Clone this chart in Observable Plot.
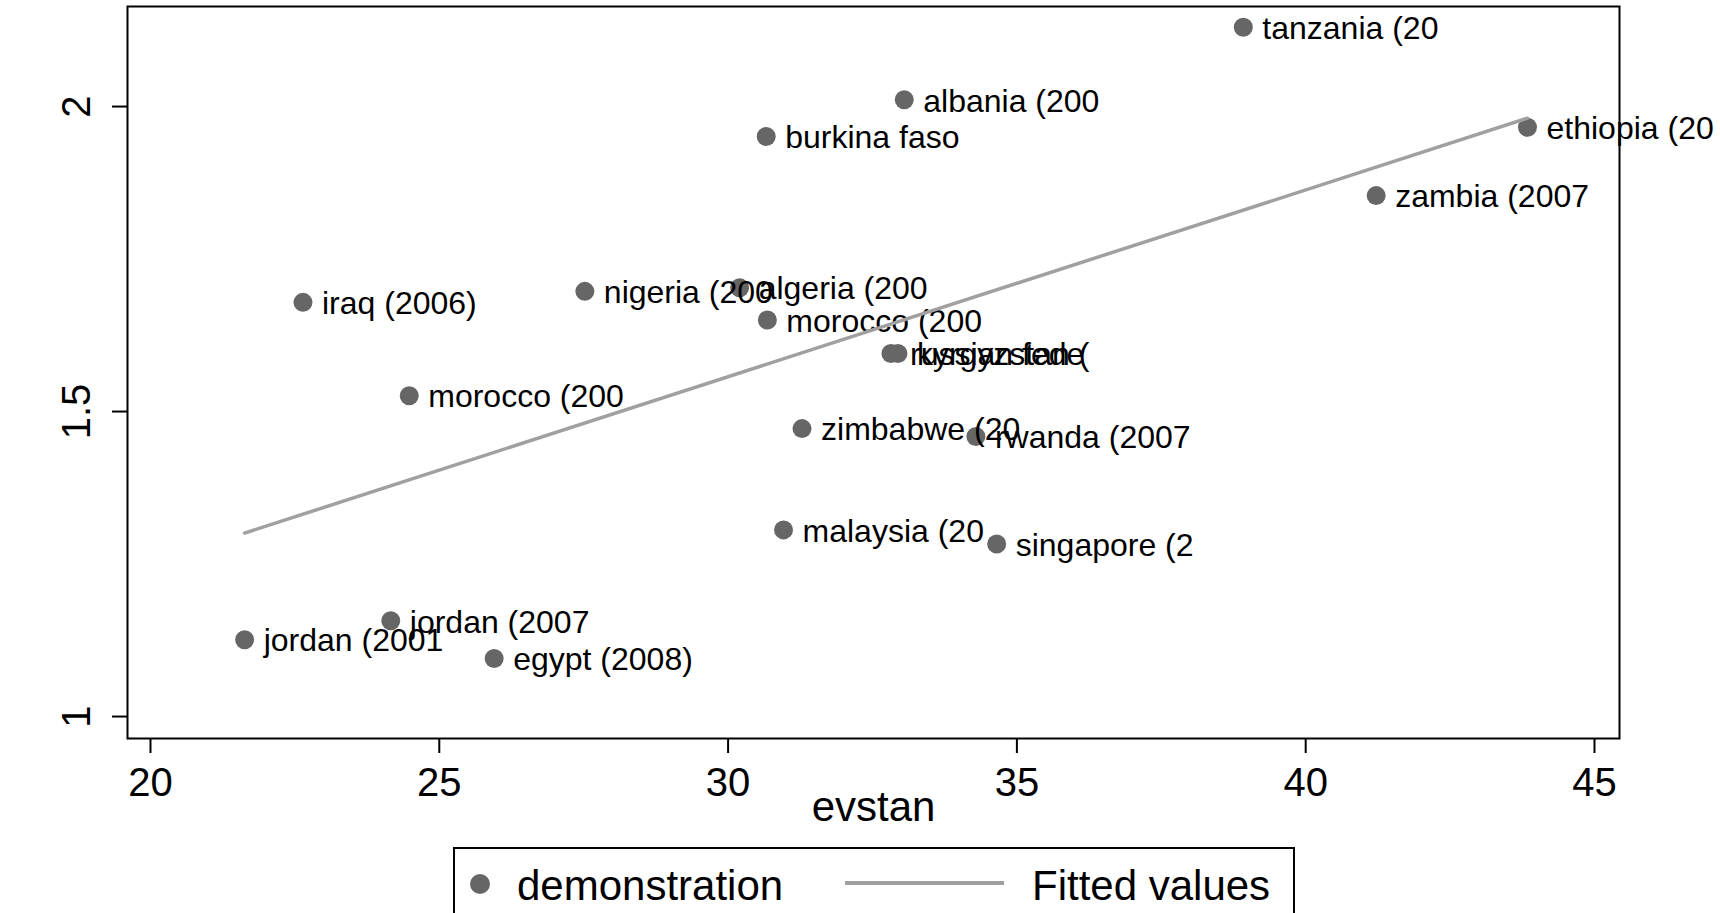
<!DOCTYPE html>
<html>
<head>
<meta charset="utf-8">
<script src="https://cdn.jsdelivr.net/npm/d3@7"></script>
<script src="https://cdn.jsdelivr.net/npm/@observablehq/plot@0.6"></script>
<style>
  html, body { margin: 0; padding: 0; background: #fff; width: 1720px; height: 913px; overflow: hidden; }
  #chart svg, #legend { display: block; }
  #legend text { font-family: "Liberation Sans", Arial, Helvetica, sans-serif; }
</style>
</head>
<body>
<div id="chart"></div>
<svg id="legend" width="1720" height="73" xmlns="http://www.w3.org/2000/svg"></svg>
<script>
// ---- data ----
const names = ["tanzania (20", "albania (200", "burkina faso", "ethiopia (20", "zambia (2007",
  "iraq (2006)", "nigeria (200", "algeria (200", "morocco (200", "russian fede", "kyrgyzstan (",
  "morocco (200", "zimbabwe (20", "rwanda (2007", "malaysia (20", "singapore (2",
  "jordan (2007", "jordan (2001", "egypt (2008)"];
const evstan = [38.92, 33.05, 30.66, 43.84, 41.22,
  22.64, 27.52, 30.20, 30.68, 32.82, 32.94,
  24.48, 31.28, 34.29, 30.96, 34.65,
  24.16, 21.63, 25.95];
const demonstration = [2.130, 2.011, 1.951, 1.966, 1.854,
  1.679, 1.697, 1.703, 1.650, 1.595, 1.595,
  1.526, 1.472, 1.459, 1.306, 1.283,
  1.157, 1.126, 1.095];
const xTicks = [20, 25, 30, 35, 40, 45];
const yTicks = [1, 1.5, 2];
const xTitle = "evstan";
const legendLabels = ["demonstration", "Fitted values"];

const rows = names.map((n, i) => ({name: n, evstan: evstan[i], demonstration: demonstration[i]}));

const font = "'Liberation Sans', Arial, Helvetica, sans-serif";
const dotColor = "#666666";
const lineColor = "#a0a0a0";

const chart = Plot.plot({
  width: 1720,
  height: 840,
  marginLeft: 127,
  marginRight: 101,
  marginTop: 6,
  marginBottom: 102,
  x: {domain: [19.602, 45.433]},
  y: {domain: [0.964, 2.164]},
  style: {fontFamily: font, background: "white", color: "black"},
  marks: [
    Plot.frame({stroke: "black", strokeWidth: 2}),
    Plot.axisX({ticks: xTicks, tickSize: 15, tickPadding: 14, fontSize: 40, strokeWidth: 2, label: null}),
    Plot.axisY({ticks: yTicks, tickSize: 15, strokeWidth: 2, tickFormat: () => "", label: null}),
    Plot.text(yTicks, {y: d => d, text: d => String(d), frameAnchor: "left", dx: -50, rotate: -90,
      fontSize: 40, textAnchor: "middle", lineAnchor: "middle"}),
    Plot.text([xTitle], {text: d => d, frameAnchor: "bottom", lineAnchor: "bottom", dy: 82, fontSize: 42}),
    Plot.dot(rows, {x: "evstan", y: "demonstration", r: 9.5, fill: dotColor, stroke: null}),
    Plot.text(rows, {x: "evstan", y: "demonstration", text: "name", dx: 19, dy: 1.5,
      textAnchor: "start", lineAnchor: "middle", fontSize: 32, fill: "black"}),
    Plot.linearRegressionY(rows, {x: "evstan", y: "demonstration", stroke: lineColor, strokeWidth: 3.5, ci: 0})
  ]
});
document.getElementById("chart").appendChild(chart);

// ---- legend (below the plot) ----
const lg = d3.select("#legend");
lg.append("rect").attr("x", 454).attr("y", 8).attr("width", 840).attr("height", 120)
  .attr("fill", "white").attr("stroke", "black").attr("stroke-width", 2);
lg.append("circle").attr("cx", 480).attr("cy", 44).attr("r", 10).attr("fill", dotColor);
lg.append("text").attr("x", 517).attr("y", 60).attr("font-size", 42).attr("fill", "black").text(legendLabels[0]);
lg.append("line").attr("x1", 845).attr("x2", 1004).attr("y1", 43).attr("y2", 43)
  .attr("stroke", lineColor).attr("stroke-width", 4);
lg.append("text").attr("x", 1032).attr("y", 60).attr("font-size", 42).attr("fill", "black").text(legendLabels[1]);
</script>
</body>
</html>
